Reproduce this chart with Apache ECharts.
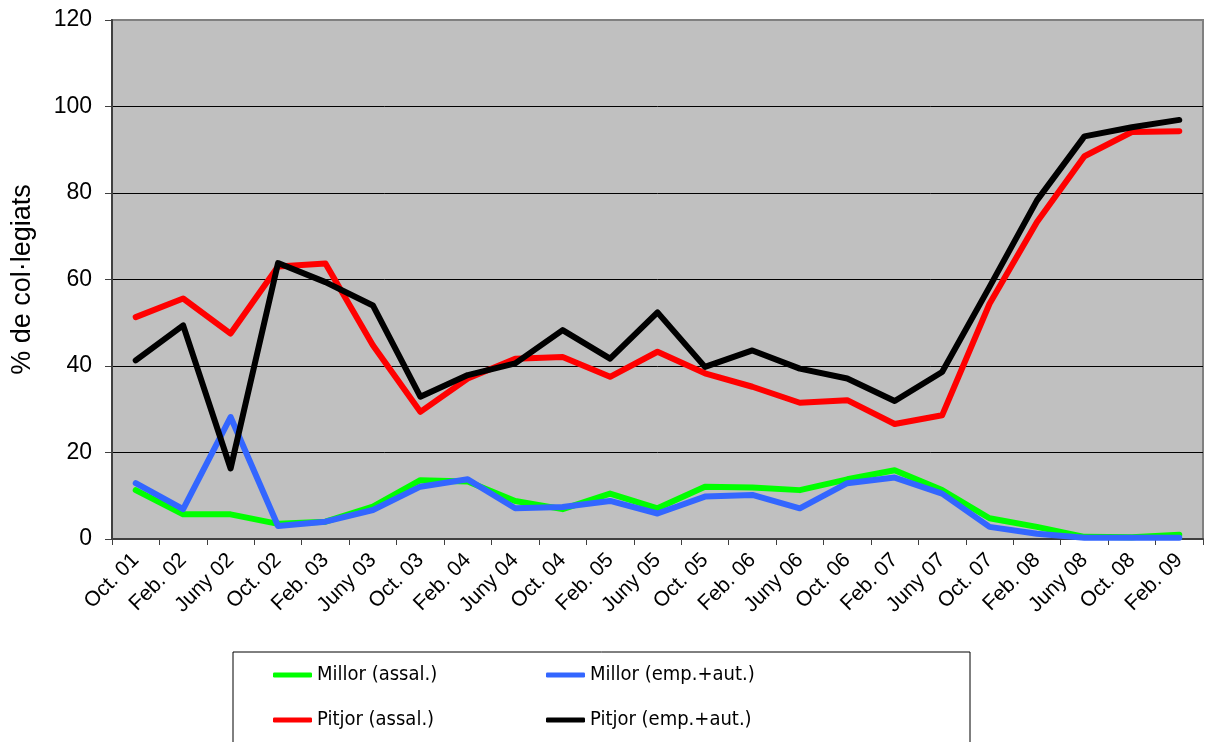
<!DOCTYPE html>
<html>
<head>
<meta charset="utf-8">
<script src="https://cdn.jsdelivr.net/npm/echarts@6/dist/echarts.min.js"></script>
<style>
  html, body { margin: 0; padding: 0; background: #fff; }
  #chart { width: 1205px; height: 742px; }
</style>
</head>
<body>
<div id="chart"></div>
<script>
const periods = ['Oct. 01', 'Feb. 02', 'Juny 02', 'Oct. 02', 'Feb. 03', 'Juny 03', 'Oct. 03', 'Feb. 04',
  'Juny 04', 'Oct. 04', 'Feb. 05', 'Juny 05', 'Oct. 05', 'Feb. 06', 'Juny 06', 'Oct. 06', 'Feb. 07',
  'Juny 07', 'Oct. 07', 'Feb. 08', 'Juny 08', 'Oct. 08', 'Feb. 09']

const millorAssal = [11.3, 5.7, 5.7, 3.5, 4.0, 7.5, 13.6, 13.3, 8.8, 6.9, 10.5, 7.1, 12.1, 11.9, 11.3, 13.8, 15.9, 11.3, 4.8, 2.8, 0.5, 0.4, 1.0]
const millorEmp = [12.9, 6.9, 28.2, 3.0, 4.0, 6.7, 12.1, 13.8, 7.1, 7.4, 8.8, 5.9, 9.8, 10.2, 7.1, 12.9, 14.2, 10.5, 2.8, 1.2, 0.3, 0.3, 0.3]
const pitjorAssal = [51.3, 55.6, 47.5, 63.0, 63.7, 44.8, 29.4, 37.1, 41.7, 42.1, 37.5, 43.3, 38.3, 35.2, 31.5, 32.1, 26.6, 28.6, 54.4, 73.3, 88.5, 94.1, 94.3]
const pitjorEmp = [41.3, 49.4, 16.3, 63.8, 59.4, 54.0, 32.9, 37.9, 40.6, 48.3, 41.7, 52.4, 39.8, 43.6, 39.4, 37.1, 31.9, 38.6, 58.3, 78.3, 93.1, 95.2, 96.9]

const seriesNames = ['Millor (assal.)', 'Millor (emp.+aut.)', 'Pitjor (assal.)', 'Pitjor (emp.+aut.)']
const seriesColors = ['#00ff00', '#3366ff', '#ff0000', '#000000']
const seriesData = [millorAssal, millorEmp, pitjorAssal, pitjorEmp]

// Arial-like everywhere, the legend text in the original is squeezed
const font = 'Liberation Sans'
const narrowFont = 'DejaVu Sans Condensed'

const chart = echarts.init(document.getElementById('chart'))

chart.setOption({
  animation: false,
  textStyle: { fontFamily: font, color: '#000' },
  grid: {
    left: 112, right: 2, top: 20, bottom: 203,
    show: true,
    backgroundColor: '#c0c0c0',
    borderColor: '#808080',
    borderWidth: 2,
  },
  legend: {
    data: seriesNames,
    left: 233,
    top: 652,
    width: 560,
    orient: 'horizontal',
    icon: 'roundRect',
    itemWidth: 39,
    itemHeight: 5,
    itemGap: 25,
    padding: [13, 176, 40, 40],
    borderColor: '#000',
    borderWidth: 1,
    backgroundColor: '#fff',
    formatter: '{t|{name}}',
    textStyle: {
      rich: {
        t: { fontFamily: narrowFont, fontSize: 20, color: '#000', width: 204, lineHeight: 20 },
      },
    },
  },
  xAxis: {
    type: 'category',
    data: periods,
    boundaryGap: true,
    axisLine: { lineStyle: { color: '#404040', width: 2 } },
    axisTick: { show: true, length: 6, interval: 0, lineStyle: { color: '#404040' } },
    axisLabel: { rotate: 45, interval: 0, fontSize: 21, margin: 18, color: '#000', fontFamily: font },
  },
  yAxis: {
    type: 'value',
    min: 0,
    max: 120,
    interval: 20,
    name: '% de col·legiats',
    nameLocation: 'middle',
    nameGap: 76,
    nameTextStyle: { fontSize: 27, color: '#000', fontFamily: font },
    axisLine: { show: true, lineStyle: { color: '#404040', width: 2 } },
    axisTick: { show: true, length: 7, lineStyle: { color: '#404040' } },
    axisLabel: { fontSize: 23, margin: 20, color: '#000', fontFamily: font },
    splitLine: { show: true, showMinLine: false, showMaxLine: false, lineStyle: { color: '#000', width: 1 } },
  },
  series: seriesNames.map((name, i) => ({
    name,
    type: 'line',
    data: seriesData[i],
    symbol: 'none',
    silent: true,
    color: seriesColors[i],
    lineStyle: { width: 6, color: seriesColors[i], cap: 'round', join: 'round' },
    itemStyle: { color: seriesColors[i] },
  })),
})
</script>
</body>
</html>
